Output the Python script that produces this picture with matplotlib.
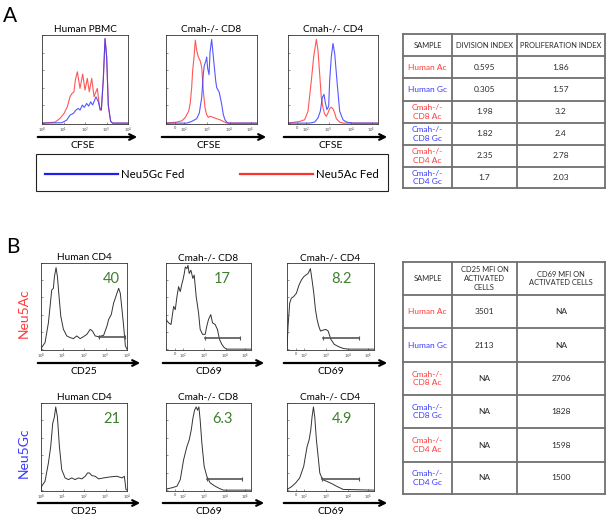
import matplotlib.pyplot as plt

W, H = 614, 522
plt.rcParams['font.family'] = ['Lato', 'DejaVu Sans']

RED = '#ff3a3a'
BLUE = '#3a3aff'
GREEN = '#3f7f2f'
GRAY = '#555555'

# ---- panel A: CFSE histograms (x = fraction of axis, y = fraction of max) ----
a1_red_x = [0.0, 0.151, 0.209, 0.256, 0.295, 0.326, 0.349, 0.372, 0.388, 0.411, 0.442, 0.473,
            0.5, 0.527, 0.55, 0.578, 0.605, 0.643, 0.674, 0.69, 0.713, 0.733, 0.752, 0.771,
            0.798, 0.822, 1.0]
a1_red_y = [0.0, 0.011, 0.053, 0.11, 0.186, 0.30, 0.337, 0.356, 0.49, 0.583, 0.394, 0.557,
            0.375, 0.508, 0.356, 0.508, 0.30, 0.394, 0.148, 0.15, 0.5, 0.96, 0.75, 0.2,
            0.02, 0.0, 0.0]
a1_blue_x = [0.0, 0.229, 0.287, 0.326, 0.364, 0.395, 0.422, 0.442, 0.469, 0.492, 0.519, 0.543,
             0.566, 0.589, 0.628, 0.655, 0.674, 0.69, 0.713, 0.733, 0.752, 0.771, 0.798,
             0.822, 1.0]
a1_blue_y = [0.0, 0.004, 0.034, 0.091, 0.110, 0.148, 0.167, 0.148, 0.205, 0.178, 0.223, 0.193,
             0.242, 0.205, 0.299, 0.242, 0.167, 0.148, 0.5, 0.96, 0.75, 0.2, 0.02,
             0.0, 0.0]

a2_red_x = [0, 0.121, 0.176, 0.212, 0.249, 0.267, 0.282, 0.293, 0.308, 0.322, 0.337, 0.355,
            0.374, 0.392, 0.41, 0.429, 0.447, 0.465, 0.484, 0.52, 0.557, 0.593, 0.63, 0.667, 1]
a2_red_y = [0, 0.012, 0.027, 0.065, 0.135, 0.231, 0.404, 0.596, 0.75, 0.942, 0.827, 0.75,
            0.712, 0.635, 0.365, 0.173, 0.096, 0.065, 0.077, 0.065, 0.05, 0.038, 0.019, 0, 0]
a2_blue_x = [0, 0.227, 0.282, 0.337, 0.366, 0.392, 0.41, 0.421, 0.44, 0.447, 0.458, 0.473,
             0.484, 0.502, 0.524, 0.546, 0.557, 0.586, 0.612, 0.63, 0.648, 0.667, 0.69, 1]
a2_blue_y = [0, 0, 0.019, 0.05, 0.115, 0.288, 0.558, 0.654, 0.712, 0.75, 0.62, 0.55,
             0.808, 0.95, 0.712, 0.481, 0.404, 0.346, 0.212, 0.096, 0.038, 0.012, 0, 0]

a3_red_x = [0, 0.13, 0.185, 0.222, 0.259, 0.285, 0.315, 0.333, 0.352, 0.37, 0.389, 0.407,
            0.426, 0.444, 0.463, 0.481, 0.5, 0.519, 0.537, 0.574, 0.611, 1]
a3_red_y = [0, 0.019, 0.038, 0.135, 0.481, 0.75, 0.95, 0.827, 0.558, 0.288, 0.173, 0.104,
            0.077, 0.115, 0.165, 0.181, 0.162, 0.115, 0.05, 0.012, 0, 0]
a3_blue_x = [0, 0.241, 0.296, 0.333, 0.359, 0.381, 0.4, 0.415, 0.433, 0.452, 0.463, 0.481,
             0.5, 0.519, 0.544, 0.574, 0.611, 0.648, 0.722, 1]
a3_blue_y = [0, 0, 0.012, 0.058, 0.135, 0.288, 0.327, 0.231, 0.154, 0.192, 0.481, 0.75,
             0.904, 0.788, 0.481, 0.135, 0.038, 0.012, 0, 0]

# ---- panel B: activation marker histograms ----
b1_ac_x = [0, 0.008, 0.047, 0.086, 0.125, 0.144, 0.156, 0.175, 0.191, 0.21, 0.23, 0.261,
           0.3, 0.339, 0.377, 0.416, 0.455, 0.494, 0.533, 0.572, 0.599, 0.63, 0.669, 0.728,
           0.767, 0.786, 0.817, 0.844, 0.864, 0.883, 0.903, 0.922, 0.942, 0.961, 0.981, 1.0]
b1_ac_y = [0, 0.019, 0.076, 0.305, 0.687, 0.706, 0.84, 0.947, 0.84, 0.611, 0.382, 0.229,
           0.153, 0.134, 0.122, 0.153, 0.122, 0.145, 0.172, 0.229, 0.21, 0.153, 0.145, 0.16,
           0.267, 0.344, 0.401, 0.534, 0.592, 0.649, 0.706, 0.649, 0.458, 0.267, 0.038, 0]
b2_ac_x = [0, 0.031, 0.059, 0.09, 0.109, 0.129, 0.148, 0.168, 0.188, 0.199, 0.215, 0.227,
           0.246, 0.258, 0.273, 0.293, 0.316, 0.332, 0.355, 0.383, 0.402, 0.43, 0.461, 0.48,
           0.5, 0.527, 0.547, 0.578, 0.605, 0.629, 0.656, 0.684, 0.715, 1]
b2_ac_y = [0.344, 0.305, 0.286, 0.496, 0.458, 0.611, 0.725, 0.668, 0.763, 0.802, 0.878, 0.954,
           0.935, 0.973, 0.878, 0.916, 0.821, 0.859, 0.611, 0.42, 0.229, 0.172, 0.172, 0.267,
           0.344, 0.401, 0.305, 0.286, 0.229, 0.115, 0.057, 0.019, 0, 0]
b3_ac_x = [0, 0.012, 0.031, 0.05, 0.077, 0.108, 0.138, 0.165, 0.192, 0.215, 0.242, 0.269,
           0.288, 0.308, 0.327, 0.346, 0.365, 0.385, 0.415, 0.446, 0.473, 0.504, 0.542, 0.588,
           0.646, 0.704, 1]
b3_ac_y = [0, 0.267, 0.534, 0.592, 0.611, 0.649, 0.744, 0.802, 0.84, 0.859, 0.878, 0.935,
           0.802, 0.649, 0.458, 0.344, 0.267, 0.21, 0.221, 0.229, 0.21, 0.115, 0.057, 0.031,
           0.008, 0, 0]
b1_gc_x = [0, 0.008, 0.047, 0.086, 0.113, 0.136, 0.156, 0.171, 0.191, 0.214, 0.241, 0.28,
           0.319, 0.358, 0.397, 0.436, 0.475, 0.514, 0.541, 0.564, 0.591, 0.63, 0.669, 0.728,
           0.805, 0.883, 0.942, 0.969, 0.988, 1]
b1_gc_y = [0, 0.045, 0.102, 0.311, 0.5, 0.765, 0.841, 0.955, 0.841, 0.5, 0.235, 0.14,
           0.121, 0.14, 0.121, 0.14, 0.129, 0.159, 0.197, 0.197, 0.167, 0.159, 0.129, 0.14,
           0.152, 0.159, 0.14, 0.159, 0.008, 0]
b2_gc_x = [0, 0.012, 0.07, 0.129, 0.168, 0.207, 0.246, 0.273, 0.297, 0.316, 0.336, 0.355,
           0.371, 0.387, 0.402, 0.422, 0.449, 0.48, 0.52, 0.578, 0.637, 0.676, 1]
b2_gc_y = [0, 0.015, 0.027, 0.045, 0.121, 0.348, 0.5, 0.576, 0.689, 0.822, 0.917, 0.955,
           0.917, 0.955, 0.803, 0.538, 0.273, 0.159, 0.083, 0.045, 0.015, 0, 0]
b3_gc_x = [0, 0.012, 0.05, 0.1, 0.146, 0.192, 0.231, 0.254, 0.273, 0.288, 0.304, 0.319,
           0.338, 0.358, 0.377, 0.408, 0.454, 0.512, 0.569, 0.646, 1]
b3_gc_y = [0, 0.015, 0.038, 0.083, 0.14, 0.273, 0.5, 0.576, 0.689, 0.841, 0.955, 0.841,
           0.576, 0.386, 0.197, 0.121, 0.102, 0.076, 0.045, 0.008, 0]

# gates: (start, end, level) and percent positive
gates_ac = [(0.669, 0.98, 0.141), (0.461, 0.871, 0.126), (0.415, 0.831, 0.126)]
gates_gc = [None, (0.48, 0.891, 0.129), (0.408, 0.831, 0.129)]
pct_ac = ['40', '17', '8.2']
pct_gc = ['21', '6.3', '4.9']

titles_a = ['Human PBMC', 'Cmah-/- CD8', 'Cmah-/- CD4']
titles_b = ['Human CD4', 'Cmah-/- CD8', 'Cmah-/- CD4']
markers_b = ['CD25', 'CD69', 'CD69']

human_ticks = [0, 0.25, 0.5, 0.75, 1.0]
human_labels = ['$10^0$', '$10^1$', '$10^2$', '$10^3$', '$10^4$']
mouse_ticks = [0.10, 0.20, 0.45, 0.70, 0.93]
mouse_labels = ['0', '$10^2$', '$10^3$', '$10^4$', '$10^5$']

# ---- tables ----
samples = ['Human Ac', 'Human Gc', 'Cmah-/-\nCD8 Ac', 'Cmah-/-\nCD8 Gc',
           'Cmah-/-\nCD4 Ac', 'Cmah-/-\nCD4 Gc']
division_index = ['0.595', '0.305', '1.98', '1.82', '2.35', '1.7']
proliferation_index = ['1.86', '1.57', '3.2', '2.4', '2.78', '2.03']
cd25_mfi = ['3501', '2113', 'NA', 'NA', 'NA', 'NA']
cd69_mfi = ['NA', 'NA', '2706', '1828', '1598', '1500']
header_a = ['SAMPLE', 'DIVISION INDEX', 'PROLIFERATION INDEX']
header_b = ['SAMPLE', 'CD25 MFI ON\nACTIVATED\nCELLS', 'CD69 MFI ON\nACTIVATED CELLS']

fig = plt.figure(figsize=(W / 100, H / 100), dpi=100)
ov = fig.add_axes([0, 0, 1, 1])
ov.set_xlim(0, W)
ov.set_ylim(H, 0)
ov.axis('off')


def box(x0, y0, x1, y1):
    return fig.add_axes([x0 / W, 1 - y1 / H, (x1 - x0) / W, (y1 - y0) / H])


def style(ax, ticks, labels):
    ax.set_xlim(0, 1)
    ax.set_ylim(-0.01, 1.0)
    ax.set_xticks(ticks)
    ax.set_xticklabels(labels, fontsize=2.8, color='#444444')
    ax.set_yticks([0, 0.2, 0.4, 0.6, 0.8, 1.0])
    ax.set_yticklabels([])
    ax.tick_params(direction='in', length=1.5, width=0.4, pad=1.2, color='#444444')
    for s in ax.spines.values():
        s.set_linewidth(0.6)
        s.set_color('#333333')


def arrow(x0, x1, y, label, ly):
    ov.annotate('', xy=(x1, y), xytext=(x0, y),
                arrowprops=dict(arrowstyle='->', lw=1.6, color='black', mutation_scale=10))
    ov.text((x0 + x1) / 2 - 5, ly, label, ha='center', va='center', fontsize=7.5)


# panel A
ov.text(10, 16, 'A', fontsize=15, ha='center', va='center')
a_boxes = [(42, 35, 128, 124), (166, 35, 257, 124), (288, 35, 378, 124)]
a_curves = [(a1_red_x, a1_red_y, a1_blue_x, a1_blue_y),
            (a2_red_x, a2_red_y, a2_blue_x, a2_blue_y),
            (a3_red_x, a3_red_y, a3_blue_x, a3_blue_y)]
for i, (bx, cv) in enumerate(zip(a_boxes, a_curves)):
    ax = box(*bx)
    ax.plot(cv[0], cv[1], color=RED, lw=0.8, alpha=0.85)
    ax.plot(cv[2], cv[3], color=BLUE, lw=0.8, alpha=0.85)
    style(ax, human_ticks if i == 0 else mouse_ticks,
          human_labels if i == 0 else mouse_labels)
    ov.text((bx[0] + bx[2]) / 2, 29, titles_a[i], ha='center', va='center', fontsize=7.2)
    arrow(bx[0] - 7, bx[2] + 12, 137, 'CFSE', 145)

# legend box
ov.add_patch(plt.Rectangle((36, 154), 352, 37, fill=False, lw=0.8, edgecolor='#222222'))
ov.plot([45, 118], [174, 174], color='#2020ee', lw=1.6)
ov.text(121, 174, 'Neu5Gc Fed', fontsize=8.2, va='center')
ov.plot([240, 313], [174, 174], color='#ff3030', lw=1.6)
ov.text(316, 174, 'Neu5Ac Fed', fontsize=8.2, va='center')

# panel B
ov.text(13, 247, 'B', fontsize=15, ha='center', va='center')
b_x = [(41, 127), (166, 251), (287, 374)]
rows_b = [(263, 350, [(b1_ac_x, b1_ac_y), (b2_ac_x, b2_ac_y), (b3_ac_x, b3_ac_y)],
           gates_ac, pct_ac, 258, 363, 371, 'Neu5Ac', RED, 313),
          (403, 491, [(b1_gc_x, b1_gc_y), (b2_gc_x, b2_gc_y), (b3_gc_x, b3_gc_y)],
           gates_gc, pct_gc, 397, 503, 511, 'Neu5Gc', BLUE, 453)]
for top, bot, curves, gates, pcts, ty, ay, ly, rlab, rcol, rcy in rows_b:
    ov.text(24, rcy, rlab, rotation=90, color=rcol, fontsize=10, ha='center', va='center')
    for i, (x0, x1) in enumerate(b_x):
        ax = box(x0, top, x1, bot)
        ax.plot(curves[i][0], curves[i][1], color='#333333', lw=0.7)
        g = gates[i]
        if g is not None:
            ax.plot([g[0], g[1]], [g[2], g[2]], color=GRAY, lw=1.2,
                    marker='|', markersize=3, markeredgewidth=0.8)
        ax.text(0.82 if i == 0 else 0.66 if i == 1 else 0.63, 0.82, pcts[i],
                transform=ax.transAxes, color=GREEN, fontsize=10.5, ha='center', va='center')
        style(ax, human_ticks if i == 0 else mouse_ticks,
              human_labels if i == 0 else mouse_labels)
        ov.text((x0 + x1) / 2, ty, titles_b[i], ha='center', va='center', fontsize=7.2)
        arrow(x0 - 6, x1 + 16, ay, markers_b[i], ly)


def table(cols, rows, header, col1, col2):
    for x in cols:
        ov.plot([x, x], [rows[0], rows[-1]], color='#707070', lw=1.3)
    for y in rows:
        ov.plot([cols[0], cols[-1]], [y, y], color='#707070', lw=1.3)
    for j, h in enumerate(header):
        ov.text((cols[j] + cols[j + 1]) / 2, (rows[0] + rows[1]) / 2, h,
                ha='center', va='center', fontsize=5.4, color='#2a2a2a', linespacing=1.3)
    for k in range(len(samples)):
        yc = (rows[k + 1] + rows[k + 2]) / 2
        c = RED if samples[k].endswith('Ac') else BLUE
        ov.text((cols[0] + cols[1]) / 2, yc, samples[k], ha='center', va='center',
                fontsize=6, color=c, linespacing=1.25)
        ov.text((cols[1] + cols[2]) / 2, yc, col1[k], ha='center', va='center',
                fontsize=6, color='#2a2a2a')
        ov.text((cols[2] + cols[3]) / 2, yc, col2[k], ha='center', va='center',
                fontsize=6, color='#2a2a2a')


table([403, 452, 517, 605], [34, 56, 78, 101, 123, 145, 167, 188],
      header_a, division_index, proliferation_index)
table([403, 452, 517, 605], [262, 295, 328, 362, 395, 428, 462, 494],
      header_b, cd25_mfi, cd69_mfi)

fig.savefig('out.png', dpi=100)
